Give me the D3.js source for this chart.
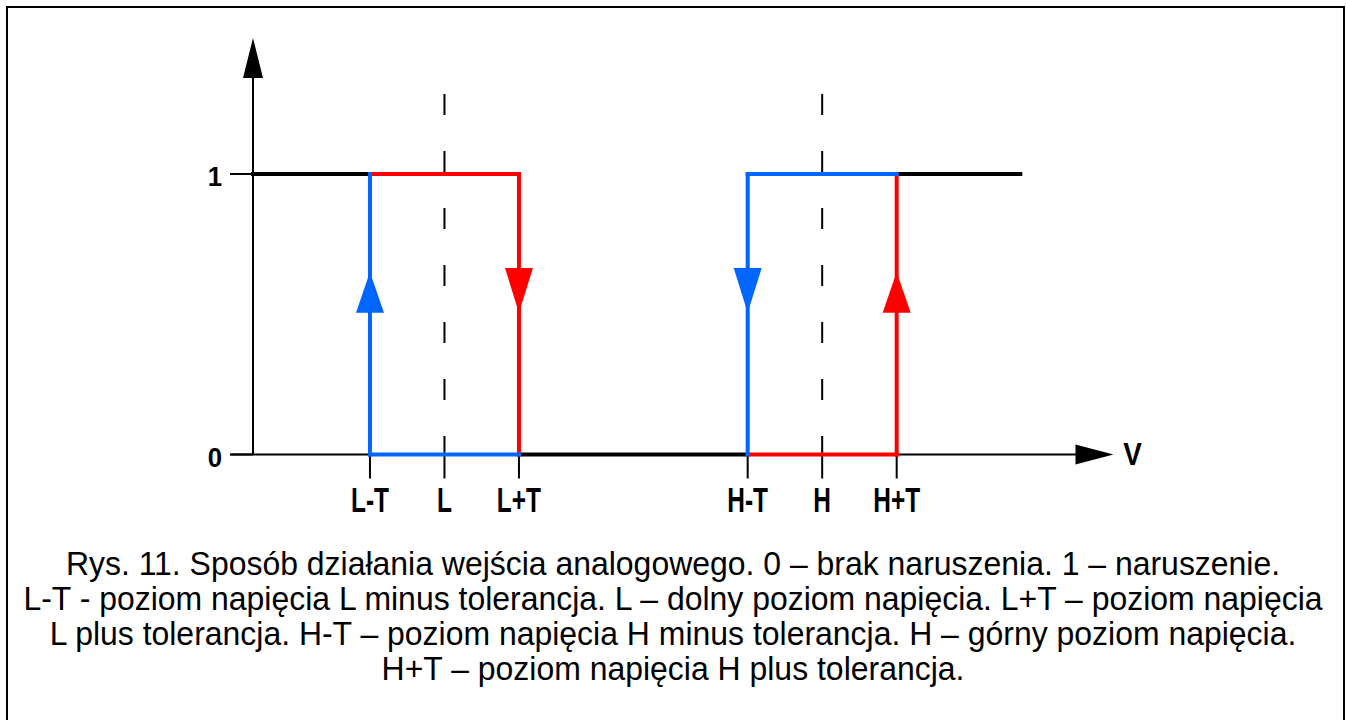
<!DOCTYPE html>
<html>
<head>
<meta charset="utf-8">
<script src="https://cdn.jsdelivr.net/npm/d3@7"></script>
<style>
  body { margin: 0; background: #fff; }
  svg { display: block; }
  .lbl { font-family: "Liberation Sans", Arial, sans-serif; font-weight: bold; }
  .cap { font-family: "Liberation Sans", Arial, sans-serif; }
</style>
</head>
<body>
<svg width="1346" height="720"></svg>
<script>
// levels on the voltage axis (units of T)
var L = 2.57, H = 7.64, T = 1;
var tickNames = ["L-T", "L", "L+T", "H-T", "H", "H+T"];
var tickValues = [L - T, L, L + T, H - T, H, H + T];
var yTicks = [0, 1];
var vEnd = 10.3;       // where the black line stops
var vAxisEnd = 11.55;  // arrow tip of V axis
var yAxisEnd = 1.485;

// segments of the hysteresis: [x1, y1, x2, y2]
var blackSegs = [[0, 1, L - T, 1], [L + T, 0, H - T, 0], [H + T, 1, vEnd, 1]];
var redSegs = [[L - T, 1, L + T, 1], [L + T, 1, L + T, 0], [H - T, 0, H + T, 0], [H + T, 0, H + T, 1]];
var blueSegs = [[L - T, 0, L + T, 0], [L - T, 0, L - T, 1], [H - T, 1, H + T, 1], [H - T, 1, H - T, 0]];
// direction arrows: [x, from y, to y, colour]
var arrows = [[L - T, 0.505, 0.651, "blue"], [L + T, 0.665, 0.505, "red"],
              [H - T, 0.665, 0.505, "blue"], [H + T, 0.505, 0.651, "red"]];

var caption = [
  "Rys. 11. Sposób działania wejścia analogowego. 0 – brak naruszenia. 1 – naruszenie.",
  "L-T - poziom napięcia L minus tolerancja. L – dolny poziom napięcia. L+T – poziom napięcia",
  "L plus tolerancja. H-T – poziom napięcia H minus tolerancja. H – górny poziom napięcia.",
  "H+T – poziom napięcia H plus tolerancja."
];

var colors = { black: "#000", red: "#ff0000", blue: "#0066ff" };

var svg = d3.select("svg");

svg.append("rect")
    .attr("x", 7).attr("y", 7)
    .attr("width", 1337).attr("height", 716)
    .attr("fill", "none").attr("stroke", "#000").attr("stroke-width", 2);

var x = d3.scaleLinear().domain([0, 12]).range([253, 1147]),
    y = d3.scaleLinear().domain([0, 1]).range([454.5, 174]);

var g = svg.append("g");

// dashed guides at L and H
g.selectAll("line.guide")
  .data([L, H])
  .enter().append("line")
    .attr("x1", function(d) { return x(d); })
    .attr("x2", function(d) { return x(d); })
    .attr("y1", y(1.285))
    .attr("y2", y(0))
    .attr("stroke", "#000")
    .attr("stroke-width", 2)
    .attr("stroke-dasharray", "21 36");

// y axis with arrow
g.append("line")
    .attr("x1", x(0)).attr("x2", x(0))
    .attr("y1", y(0)).attr("y2", y(yAxisEnd) + 30)
    .attr("stroke", "#000").attr("stroke-width", 2);
g.append("path")
    .attr("d", "M" + x(0) + "," + y(yAxisEnd) + "l-10,40h20z")
    .attr("fill", "#000");

// x axis with arrow
g.append("line")
    .attr("x1", x(0) - 23).attr("x2", x(vAxisEnd) - 30)
    .attr("y1", y(0)).attr("y2", y(0))
    .attr("stroke", "#000").attr("stroke-width", 2);
g.append("path")
    .attr("d", "M" + x(vAxisEnd) + "," + y(0) + "l-38,-10v20z")
    .attr("fill", "#000");

// y ticks
g.selectAll("line.ytick")
  .data(yTicks)
  .enter().append("line")
    .attr("x1", x(0) - 23).attr("x2", x(0))
    .attr("y1", function(d) { return y(d); })
    .attr("y2", function(d) { return y(d); })
    .attr("stroke", "#000").attr("stroke-width", 2);
g.selectAll("text.ylab")
  .data(yTicks)
  .enter().append("text")
    .attr("class", "lbl")
    .attr("transform", function(d) { return "translate(" + (x(0) - 38) + "," + y(d) + ") scale(0.92,1)"; })
    .attr("dy", "0.44em")
    .attr("text-anchor", "middle")
    .attr("font-size", 28)
    .text(function(d) { return d; });

// x ticks
g.selectAll("line.xtick")
  .data(tickValues)
  .enter().append("line")
    .attr("x1", function(d) { return x(d); })
    .attr("x2", function(d) { return x(d); })
    .attr("y1", y(0)).attr("y2", y(0) + 24)
    .attr("stroke", "#000").attr("stroke-width", 2);
g.selectAll("text.xlab")
  .data(tickNames)
  .enter().append("text")
    .attr("class", "lbl")
    .attr("transform", function(d, i) { return "translate(" + x(tickValues[i]) + "," + (y(0) + 57.5) + ") scale(0.7,1)"; })
    .attr("text-anchor", "middle")
    .attr("font-size", 35)
    .text(function(d) { return d; });

g.append("text")
    .attr("class", "lbl")
    .attr("transform", "translate(" + (x(vAxisEnd) + 19) + "," + y(0) + ") scale(0.9,1)")
    .attr("dy", "0.34em")
    .attr("text-anchor", "middle")
    .attr("font-size", 31)
    .text("V");

function drawSegs(segs, col) {
  g.selectAll(null)
    .data(segs)
    .enter().append("line")
      .attr("x1", function(d) { return x(d[0]); })
      .attr("y1", function(d) { return y(d[1]); })
      .attr("x2", function(d) { return x(d[2]); })
      .attr("y2", function(d) { return y(d[3]); })
      .attr("stroke", col)
      .attr("stroke-width", 4)
      .attr("stroke-linecap", "square");
}
drawSegs(blackSegs, colors.black);
drawSegs(redSegs, colors.red);
drawSegs(blueSegs, colors.blue);

g.selectAll("path.arrow")
  .data(arrows)
  .enter().append("path")
    .attr("d", function(d) {
      var cx = x(d[0]), a = y(d[1]), b = y(d[2]);
      return "M" + (cx - 14) + "," + a + "L" + (cx + 14) + "," + a + "L" + cx + "," + b + "Z";
    })
    .attr("fill", function(d) { return colors[d[3]]; });

// caption
svg.selectAll("text.cap")
  .data(caption)
  .enter().append("text")
    .attr("class", "cap")
    .attr("transform", function(d, i) { return "translate(673," + (575 + i * 35) + ") scale(0.94,1)"; })
    .attr("text-anchor", "middle")
    .attr("font-size", 34)
    .text(function(d) { return d; });
</script>
</body>
</html>
